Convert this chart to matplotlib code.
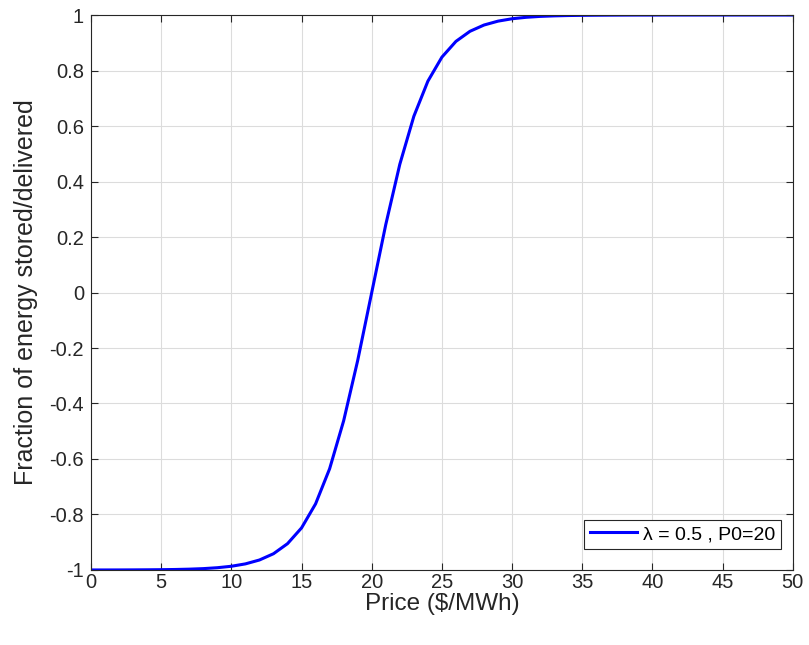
import numpy as np
from matplotlib import pyplot as plt

plt.rcParams['font.family'] = ['Liberation Sans', 'DejaVu Sans']

# price ($/MWh) and fraction
price = list(range(0, 51))
fraction = [-0.9999, -0.9999, -0.9998, -0.9996, -0.9993, -0.9989, -0.9982, -0.9970,
            -0.9951, -0.9918, -0.9866, -0.9780, -0.9640, -0.9414, -0.9051, -0.8483,
            -0.7616, -0.6351, -0.4621, -0.2449, 0.0, 0.2449, 0.4621, 0.6351,
            0.7616, 0.8483, 0.9051, 0.9414, 0.9640, 0.9780, 0.9866, 0.9918,
            0.9951, 0.9970, 0.9982, 0.9989, 0.9993, 0.9996, 0.9998, 0.9999,
            0.9999, 1.0, 1.0, 1.0, 1.0, 1.0, 1.0, 1.0, 1.0, 1.0, 1.0]

fig = plt.figure(figsize=(8.09, 6.45), dpi=100)
ax = fig.add_axes([0.1125, 0.1163, 0.8675, 0.8604])

ax.plot(price, fraction, color='blue', lw=2.2, label='λ = 0.5 , P0=20')

ax.set_xlim(0, 50)
ax.set_ylim(-1, 1)
ax.set_xticks(np.arange(0, 51, 5))
ax.set_yticks(np.arange(-1, 1.01, 0.2))
ax.set_yticklabels(['-1', '-0.8', '-0.6', '-0.4', '-0.2', '0', '0.2', '0.4', '0.6', '0.8', '1'])
ax.grid(True, color='#dcdcdc', lw=0.8)
ax.tick_params(direction='in', labelsize=14.5, colors='#262626', length=5, top=True, right=True)
ax.tick_params(axis='x', pad=2)
ax.tick_params(axis='y', pad=5)
for s in ax.spines.values():
    s.set_color('#262626')
    s.set_linewidth(0.8)

ax.set_xlabel('Price ($/MWh)', fontsize=17.5, color='#262626', labelpad=1)
ax.set_ylabel('Fraction of energy stored/delivered', fontsize=18, color='#262626', labelpad=8)

leg = ax.legend(loc='lower right', bbox_to_anchor=(1 - 12 / 702, 21 / 555), fontsize=14,
                fancybox=False, framealpha=1, edgecolor='#262626', handlelength=2.4,
                borderaxespad=0, borderpad=0.3, handletextpad=0.3)
leg.get_frame().set_linewidth(0.8)

fig.savefig('out.png', dpi=100)
